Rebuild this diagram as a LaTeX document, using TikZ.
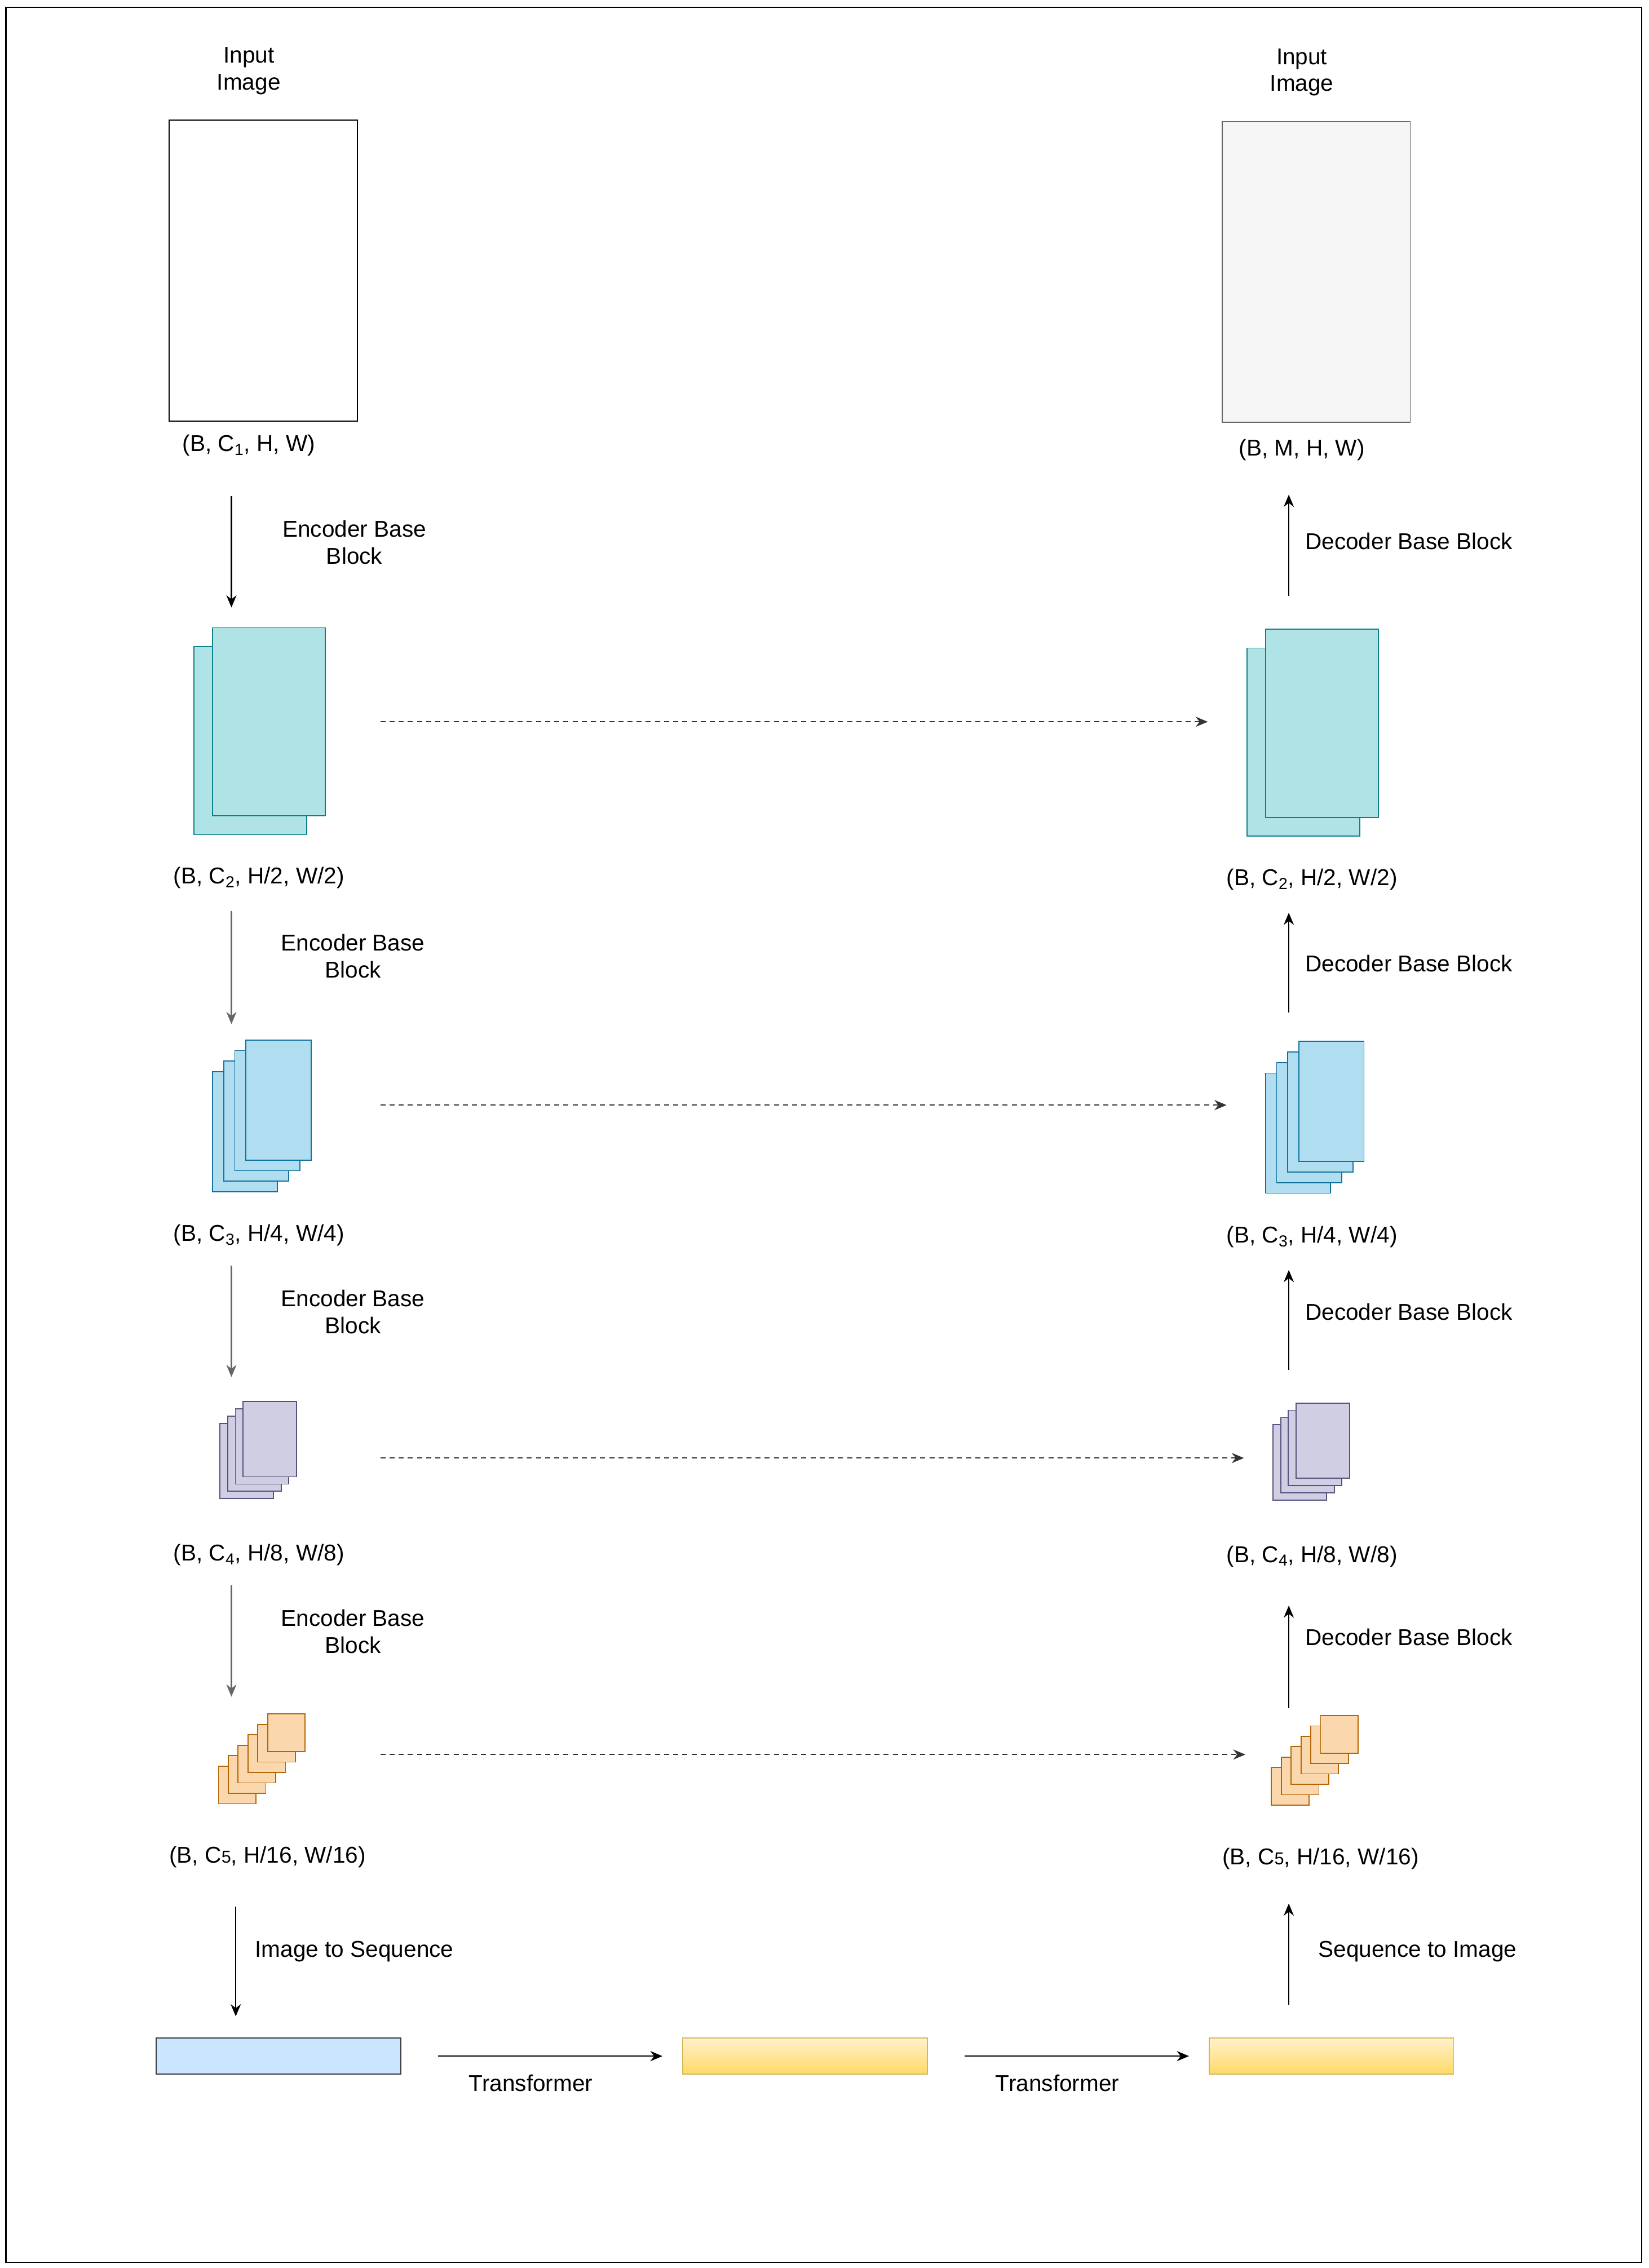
\documentclass[tikz,border=0pt]{standalone}
\usepackage{fontspec}
\setmainfont{Liberation Sans}
\usetikzlibrary{arrows.meta,positioning}
\definecolor{tealfill}{HTML}{B0E3E6}\definecolor{tealline}{HTML}{0E8088}
\definecolor{bluefill}{HTML}{B1DDF0}\definecolor{blueline}{HTML}{10739E}
\definecolor{purpfill}{HTML}{D0CEE2}\definecolor{purpline}{HTML}{56517E}
\definecolor{orgfill}{HTML}{FAD7AC}\definecolor{orgline}{HTML}{B46504}
\definecolor{seqfill}{HTML}{CCE5FF}\definecolor{seqline}{HTML}{36393D}
\definecolor{yelltop}{HTML}{FFF2CC}\definecolor{yellbot}{HTML}{FFD966}\definecolor{yellline}{HTML}{D6B656}
\tikzset{
  lbl/.style={font=\fontsize{22.5}{26.5}\selectfont, align=center},
  map/.style={draw, line width=1pt, inner sep=0pt, outer sep=0pt},
  flow/.style={-{Stealth[length=12pt,width=10pt]}, line width=1.2pt},
  skip/.style={-{Stealth[length=12pt,width=10pt]}, line width=1pt, dashed, dash pattern=on 5pt off 4pt, black!80},
}
\begin{document}
\begin{tikzpicture}[x=0.05cm, y=-0.05cm]
    \useasboundingbox (0,0) rectangle (1140,1568);
    \draw[line width=1.4pt] (4,5) rectangle (1135,1564);

    % input / output images
    \node[map, fill=white, minimum width=6.5cm, minimum height=10.4cm] (inL) at (182,187) {};
    \node[map, fill=black!4, draw=black!60, minimum width=6.5cm, minimum height=10.4cm] (inR) at (910,188) {};
    \node[lbl] (tinL) at (172,49) {Input\\Image};
    \node[lbl] (tinR) at (900,50) {Input\\Image};
    \node[lbl] (sL0) at (172,308) {(B, C\textsubscript{1}, H, W)};
    \node[lbl] (sR0) at (900,311) {(B, M, H, W)};

    % level 1
    \foreach \i in {1,0} {
      \node[map, fill=tealfill, draw=tealline, minimum width=3.9cm, minimum height=6.5cm] (aL\i) at (186-13*\i,499+13*\i) {};
      \node[map, fill=tealfill, draw=tealline, minimum width=3.9cm, minimum height=6.5cm] (aR\i) at (914-13*\i,500+13*\i) {};
    }
    \node[lbl] (sL1) at (179,607) {(B, C\textsubscript{2}, H/2, W/2)};
    \node[lbl] (sR1) at (907,608) {(B, C\textsubscript{2}, H/2, W/2)};

    % level 2
    \foreach \i in {3,2,1,0} {
      \node[map, fill=bluefill, draw=blueline, minimum width=2.25cm, minimum height=4.15cm] (bL\i) at (192.5-7.7*\i,760.5+7.3*\i) {};
      \node[map, fill=bluefill, draw=blueline, minimum width=2.25cm, minimum height=4.15cm] (bR\i) at (920.5-7.7*\i,761.5+7.3*\i) {};
    }
    \node[lbl] (sL2) at (179,854) {(B, C\textsubscript{3}, H/4, W/4)};
    \node[lbl] (sR2) at (907,855) {(B, C\textsubscript{3}, H/4, W/4)};

    % level 3
    \foreach \i in {3,2,1,0} {
      \node[map, fill=purpfill, draw=purpline, minimum width=1.85cm, minimum height=2.6cm] (cL\i) at (186.5-5.3*\i,995+5*\i) {};
      \node[map, fill=purpfill, draw=purpline, minimum width=1.85cm, minimum height=2.6cm] (cR\i) at (914.5-5.3*\i,996+5*\i) {};
    }
    \node[lbl] (sL3) at (179,1075) {(B, C\textsubscript{4}, H/8, W/8)};
    \node[lbl] (sR3) at (907,1076) {(B, C\textsubscript{4}, H/8, W/8)};

    % level 4
    \foreach \i in {5,4,3,2,1,0} {
      \node[map, fill=orgfill, draw=orgline, minimum width=1.3cm, minimum height=1.3cm] (dL\i) at (198-6.8*\i,1198+7.2*\i) {};
      \node[map, fill=orgfill, draw=orgline, minimum width=1.3cm, minimum height=1.3cm] (dR\i) at (926-6.8*\i,1199+7.2*\i) {};
    }
    \node[lbl] (sL4) at (185,1284) {(B, C{\fontsize{17}{20}\selectfont 5}, H/16, W/16)};
    \node[lbl] (sR4) at (913,1285) {(B, C{\fontsize{17}{20}\selectfont 5}, H/16, W/16)};

    % sequences
    \node[map, fill=seqfill, draw=seqline, minimum width=8.45cm, minimum height=1.25cm] (seq) at (192.5,1421.5) {};
    \node[map, top color=yelltop, bottom color=yellbot, draw=yellline, minimum width=8.45cm, minimum height=1.25cm] (tr1) at (556.5,1421.5) {};
    \node[map, top color=yelltop, bottom color=yellbot, draw=yellline, minimum width=8.45cm, minimum height=1.25cm] (tr2) at (920.5,1421.5) {};

    % encoder arrows
    \coordinate (e0a) at (160,343); \coordinate (e0b) at (160,420);
    \coordinate (e1a) at (160,630); \coordinate (e1b) at (160,708);
    \coordinate (e2a) at (160,875); \coordinate (e2b) at (160,952);
    \coordinate (e3a) at (160,1096); \coordinate (e3b) at (160,1173);
    \coordinate (e4a) at (163,1318); \coordinate (e4b) at (163,1394);
    \draw[flow] (e0a) -- (e0b);
    \draw[flow, black!60] (e1a) -- (e1b);
    \draw[flow, black!60] (e2a) -- (e2b);
    \draw[flow, black!60] (e3a) -- (e3b);
    \draw[flow] (e4a) -- (e4b);
    \node[lbl] at (245,375) {Encoder Base\\Block};
    \node[lbl] at (244,661) {Encoder Base\\Block};
    \node[lbl] at (244,907) {Encoder Base\\Block};
    \node[lbl] at (244,1128) {Encoder Base\\Block};
    \node[lbl] at (245,1349) {Image to Sequence};

    % decoder arrows
    \coordinate (g0a) at (891,412); \coordinate (g0b) at (891,342);
    \coordinate (g1a) at (891,700); \coordinate (g1b) at (891,631);
    \coordinate (g2a) at (891,947); \coordinate (g2b) at (891,878);
    \coordinate (g3a) at (891,1181); \coordinate (g3b) at (891,1110);
    \coordinate (g4a) at (891,1386); \coordinate (g4b) at (891,1316);
    \foreach \k in {0,...,4} \draw[flow] (g\k a) -- (g\k b);
    \node[lbl] at (974,374) {Decoder Base Block};
    \node[lbl] at (974,666) {Decoder Base Block};
    \node[lbl] at (974,907) {Decoder Base Block};
    \node[lbl] at (974,1132) {Decoder Base Block};
    \node[lbl] at (980,1349) {Sequence to Image};

    % skip connections
    \coordinate (k1) at (263,499); \coordinate (k1e) at (835,499);
    \coordinate (k2) at (263,764); \coordinate (k2e) at (848,764);
    \coordinate (k3) at (263,1008); \coordinate (k3e) at (860,1008);
    \coordinate (k4) at (263,1213); \coordinate (k4e) at (861,1213);
    \foreach \k in {1,...,4} \draw[skip] (k\k) -- (k\k e);

    % transformer
    \draw[flow] (seq.east) ++(26,0) coordinate (t1a) -- ([xshift=-14*0.05cm]tr1.west);
    \draw[flow] (tr1.east) ++(26,0) coordinate (t2a) -- ([xshift=-14*0.05cm]tr2.west);
    \node[lbl] at (367,1440) {Transformer};
    \node[lbl] at (731,1440) {Transformer};
\end{tikzpicture}
\end{document}
